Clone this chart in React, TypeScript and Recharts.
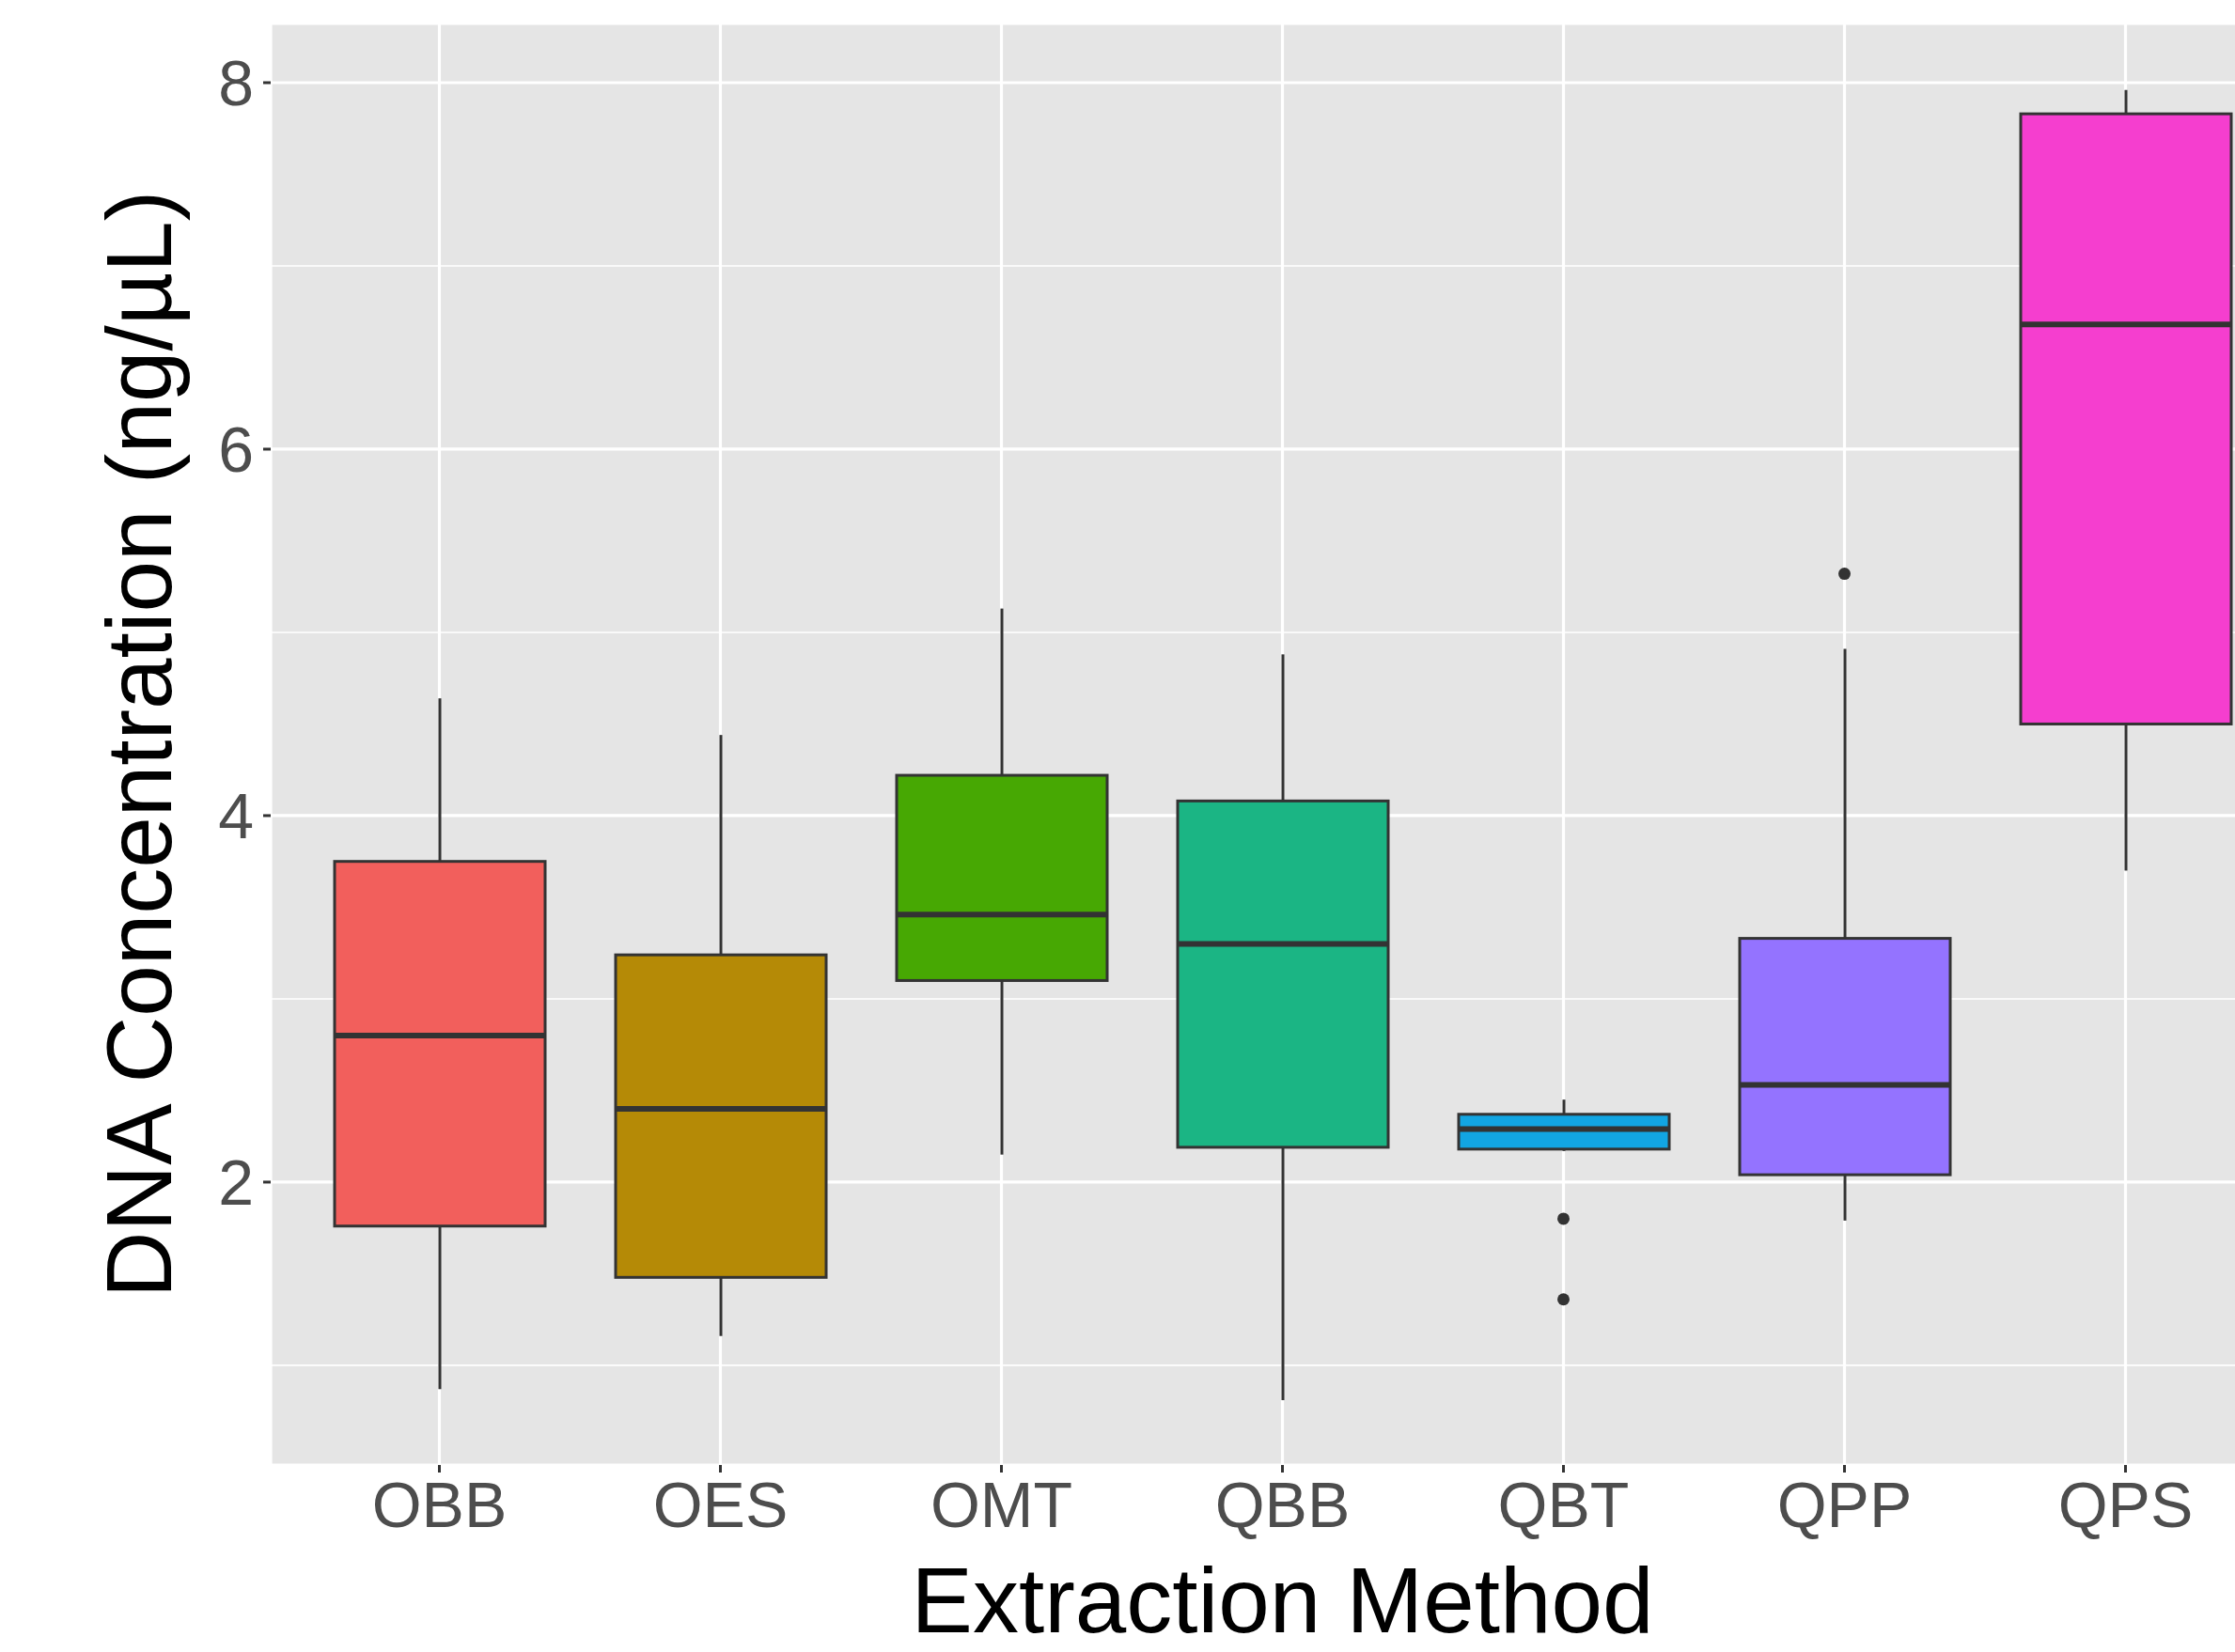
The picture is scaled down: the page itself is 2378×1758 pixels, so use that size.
import React from "react";
import {
    ComposedChart,
    Bar,
    Line,
    XAxis,
    YAxis,
    CartesianGrid,
    Label,
} from "recharts";

// box plot summary per extraction method
const methods = ["OBB", "OES", "OMT", "QBB", "QBT", "QPP", "QPS"];
const lowerWhisker = [0.87, 1.16, 2.15, 0.81, 2.17, 1.79, 3.7];
const q1 = [1.76, 1.48, 3.1, 2.19, 2.18, 2.04, 4.5];
const median = [2.8, 2.4, 3.46, 3.3, 2.29, 2.53, 6.68];
const q3 = [3.75, 3.24, 4.22, 4.08, 2.37, 3.33, 7.83];
const upperWhisker = [4.64, 4.44, 5.13, 4.88, 2.45, 4.91, 7.96];

// outliers (two slots, null = none)
const outlierA = [null, null, null, null, 1.8, 5.32, null];
const outlierB = [null, null, null, null, 1.36, null, null];

const fills = ["#F25F5C", "#B58A06", "#47A803", "#1BB584", "#12A5E2", "#9473FF", "#F53ECF"];

const yTicks = [2, 4, 6, 8];
const yMinor = [1, 3, 5, 7];

const FONT = "'Liberation Sans', Arial, Helvetica, sans-serif";

const data = methods.map((m, i) => ({
    method: m,
    range: [lowerWhisker[i], upperWhisker[i]],
    lo: lowerWhisker[i],
    q1: q1[i],
    med: median[i],
    q3: q3[i],
    hi: upperWhisker[i],
    fill: fills[i],
    outA: outlierA[i],
    outB: outlierB[i],
}));

function BoxShape(props: any) {
    const { x, y, width, height, payload } = props;
    if (!payload) return null;
    const top = Math.min(y, y + height);
    const h = Math.abs(height);
    const k = h / (payload.hi - payload.lo);
    const py = (v: number) => top + (payload.hi - v) * k;
    const cx = x + width / 2;
    return (
        <g>
            <line x1={cx} x2={cx} y1={py(payload.hi)} y2={py(payload.q3)} stroke="#333333" strokeWidth={3} />
            <line x1={cx} x2={cx} y1={py(payload.q1)} y2={py(payload.lo)} stroke="#333333" strokeWidth={3} />
            <rect
                x={x}
                y={py(payload.q3)}
                width={width}
                height={py(payload.q1) - py(payload.q3)}
                fill={payload.fill}
                stroke="#333333"
                strokeWidth={3}
            />
            <line x1={x} x2={x + width} y1={py(payload.med)} y2={py(payload.med)} stroke="#333333" strokeWidth={6} />
        </g>
    );
}

export default function App() {
    return (
        <div
            style={{
                position: "fixed",
                left: 0,
                top: 0,
                width: 2378,
                height: 1758,
                overflow: "hidden",
                background: "#ffffff",
                fontFamily: FONT,
            }}
        >
            <ComposedChart
                width={2441}
                height={1758}
                data={data}
                margin={{ top: 25, right: 0, bottom: 0, left: 0 }}
                barCategoryGap={0}
            >
                {/* panel + minor grid */}
                <CartesianGrid
                    fill="#E5E5E5"
                    stroke="#FFFFFF"
                    strokeWidth={1.6}
                    vertical={false}
                    horizontalValues={yMinor}
                />
                {/* major grid */}
                <CartesianGrid stroke="#FFFFFF" strokeWidth={3.2} />

                <XAxis
                    dataKey="method"
                    type="category"
                    height={199}
                    padding={{ left: 30, right: 30 }}
                    axisLine={false}
                    tickSize={8}
                    tickMargin={10}
                    tickLine={{ stroke: "#333333", strokeWidth: 3 }}
                    tick={{ fill: "#4D4D4D", fontSize: 68, fontFamily: FONT }}
                >
                    <Label
                        content={(p: any) => {
                            const vb = p.viewBox || {};
                            return (
                                <text
                                    x={vb.x + vb.width / 2}
                                    y={vb.y + 178}
                                    textAnchor="middle"
                                    fill="#000000"
                                    fontSize={98}
                                    fontFamily={FONT}
                                >
                                    Extraction Method
                                </text>
                            );
                        }}
                    />
                </XAxis>

                <YAxis
                    type="number"
                    width={288}
                    domain={[0.456, 8.323]}
                    ticks={yTicks}
                    allowDataOverflow
                    axisLine={false}
                    tickSize={8}
                    tickMargin={10}
                    tickLine={{ stroke: "#333333", strokeWidth: 3 }}
                    tick={{ fill: "#4D4D4D", fontSize: 68, fontFamily: FONT }}
                >
                    <Label
                        content={(p: any) => {
                            const vb = p.viewBox || {};
                            const cy = vb.y + vb.height / 2;
                            return (
                                <text
                                    x={182}
                                    y={cy}
                                    transform={`rotate(-90, 182, ${cy})`}
                                    textAnchor="middle"
                                    fill="#000000"
                                    fontSize={98}
                                    fontFamily={FONT}
                                >
                                    DNA Concentration (ng/µL)
                                </text>
                            );
                        }}
                    />
                </YAxis>

                {/* BOXES */}
                <Bar dataKey="range" barSize={224} shape={<BoxShape />} isAnimationActive={false} />

                {/* OUTLIERS */}
                <Line
                    dataKey="outA"
                    stroke="none"
                    dot={{ r: 6.5, fill: "#333333", stroke: "none" }}
                    activeDot={false}
                    isAnimationActive={false}
                />
                <Line
                    dataKey="outB"
                    stroke="none"
                    dot={{ r: 6.5, fill: "#333333", stroke: "none" }}
                    activeDot={false}
                    isAnimationActive={false}
                />
            </ComposedChart>
        </div>
    );
}
